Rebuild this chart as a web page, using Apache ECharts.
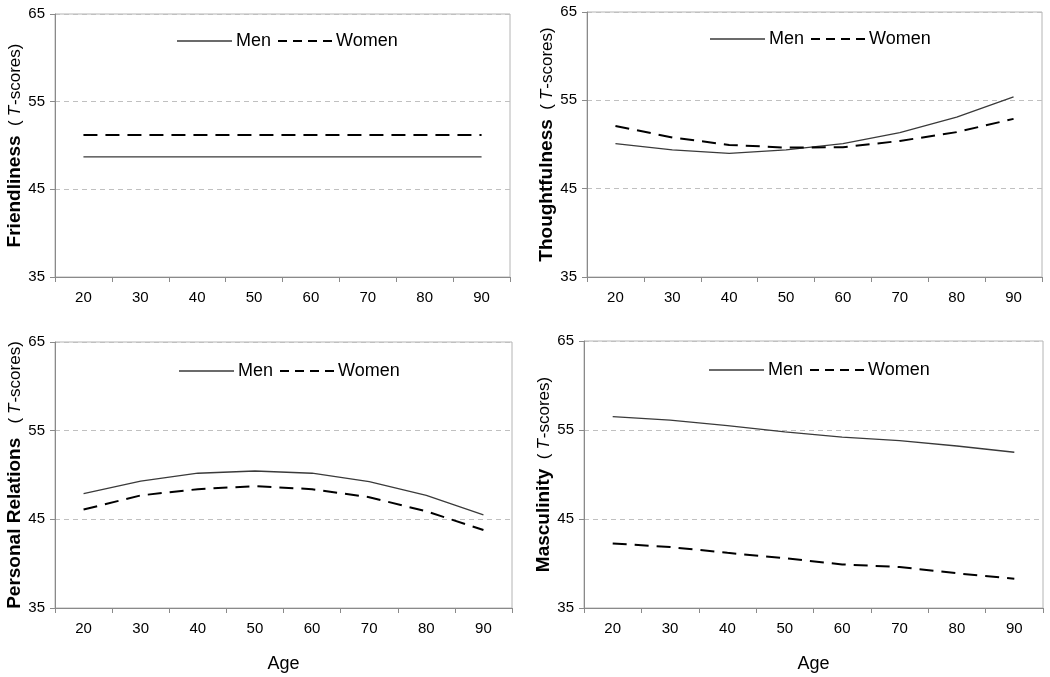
<!DOCTYPE html>
<html>
<head>
<meta charset="utf-8">
<script src="https://cdn.jsdelivr.net/npm/echarts@6/dist/echarts.min.js"></script>
<style>
html,body{margin:0;padding:0;background:#fff;}
#chart{width:1050px;height:677px;}
</style>
</head>
<body>
<div id="chart"></div>
<script>
// ---- data ----
const ages = ['20', '30', '40', '50', '60', '70', '80', '90'];
const yMin = 35, yMax = 65, yStep = 10;

const friendlinessMen   = [48.7, 48.7, 48.7, 48.7, 48.7, 48.7, 48.7, 48.7];
const friendlinessWomen = [51.2, 51.2, 51.2, 51.2, 51.2, 51.2, 51.2, 51.2];

const thoughtfulnessMen   = [50.1, 49.4, 49.0, 49.4, 50.1, 51.35, 53.1, 55.4];
const thoughtfulnessWomen = [52.1, 50.8, 49.95, 49.65, 49.7, 50.4, 51.4, 52.9];

const relationsMen   = [47.9, 49.3, 50.2, 50.45, 50.2, 49.25, 47.7, 45.5];
const relationsWomen = [46.1, 47.7, 48.4, 48.75, 48.4, 47.5, 45.9, 43.8];

const masculinityMen   = [56.5, 56.1, 55.5, 54.8, 54.2, 53.8, 53.2, 52.5];
const masculinityWomen = [42.25, 41.85, 41.2, 40.6, 39.9, 39.6, 38.9, 38.3];

const panelTitles = ['Friendliness', 'Thoughtfulness', 'Personal Relations', 'Masculinity'];
const titleSpacer = ['  ', '  ', '   ', '  '];
const xTitle = 'Age';
const seriesNames = ['Men', 'Women'];

const panelData = [
  [friendlinessMen, friendlinessWomen],
  [thoughtfulnessMen, thoughtfulnessWomen],
  [relationsMen, relationsWomen],
  [masculinityMen, masculinityWomen]
];

// ---- layout ----
const FONT = '"Liberation Sans", Arial, sans-serif';
const grids = [
  {left: 55,  top: 14,  width: 455, height: 263},
  {left: 587, top: 12,  width: 455, height: 265},
  {left: 55,  top: 342, width: 457, height: 266},
  {left: 584, top: 341, width: 459, height: 267}
];
// legend anchor: left of Men icon, vertical centre of row
const legendPos = [
  {x: 177, y: 39},
  {x: 710, y: 37},
  {x: 179, y: 369},
  {x: 709, y: 368}
];
const MEN_ICON = 'path://M0,0H55V1.3H0Z';
const WOMEN_ICON = 'path://M0,0H9V2H0Z M15,0H24V2H15Z M30,0H39V2H30Z M45,0H54V2H45Z';

const legends = [];
legendPos.forEach(p => {
  legends.push({
    left: p.x, top: p.y - 7, padding: 0,
    itemWidth: 55, itemHeight: 1.3, itemGap: 0,
    icon: MEN_ICON, selectedMode: false,
    textStyle: {fontFamily: FONT, fontSize: 18, color: '#000', padding: [0, 0, 0, -1]},
    data: [{name: 'Men', itemStyle: {color: '#3a3a3a'}}]
  });
  legends.push({
    left: p.x + 101, top: p.y - 7, padding: 0,
    itemWidth: 54, itemHeight: 2, itemGap: 0,
    icon: WOMEN_ICON, selectedMode: false,
    textStyle: {fontFamily: FONT, fontSize: 18, color: '#000', padding: [0, 0, 0, -1]},
    data: [{name: 'Women', itemStyle: {color: '#000'}}]
  });
});

const option = {
  backgroundColor: '#fff',
  animation: false,
  textStyle: {fontFamily: FONT, color: '#000'},
  grid: grids.map(g => Object.assign({show: true, borderColor: '#b4b4b4', borderWidth: 1, backgroundColor: 'transparent'}, g)),
  legend: legends,
  xAxis: grids.map((g, i) => ({
    type: 'category', gridIndex: i, data: ages, boundaryGap: true,
    axisLine: {show: true, lineStyle: {color: '#8a8a8a', width: 1}},
    axisTick: {show: true, length: 5, inside: false, lineStyle: {color: '#8a8a8a'}},
    axisLabel: {fontSize: 15, color: '#000', fontFamily: FONT, margin: 13},
    splitLine: {show: false},
    name: i >= 2 ? xTitle : '',
    nameLocation: 'middle', nameGap: 47,
    nameTextStyle: {fontSize: 18, color: '#000', fontFamily: FONT}
  })),
  yAxis: grids.map((g, i) => ({
    type: 'value', gridIndex: i, min: yMin, max: yMax, interval: yStep,
    axisLine: {show: true, lineStyle: {color: '#8a8a8a', width: 1}},
    axisTick: {show: true, length: 5, inside: false, lineStyle: {color: '#8a8a8a'}},
    axisLabel: {fontSize: 15, color: '#000', fontFamily: FONT, margin: 10},
    splitLine: {show: true, lineStyle: {color: '#c0c0c0', type: [5, 4], width: 1}},
    name: '{b|' + panelTitles[i] + '}{r|' + titleSpacer[i] + '(}{it|T}{r|-scores)}',
    nameLocation: 'middle', nameRotate: 90, nameGap: 26,
    nameTextStyle: {
      fontSize: 17, color: '#000', fontFamily: FONT,
      rich: {
        b: {fontSize: 19, fontWeight: 'bold', color: '#000', fontFamily: FONT},
        r: {fontSize: 17, color: '#000', fontFamily: FONT},
        it: {fontSize: 17, fontStyle: 'italic', color: '#000', fontFamily: FONT, padding: [0, 1, 0, 4]}
      }
    }
  })),
  series: []
};

panelData.forEach((pair, i) => {
  option.series.push({
    name: seriesNames[0], type: 'line', xAxisIndex: i, yAxisIndex: i,
    data: pair[0], symbol: 'none', smooth: false,
    lineStyle: {color: '#3a3a3a', width: 1.3, type: 'solid'},
    itemStyle: {color: '#3a3a3a'}
  });
  option.series.push({
    name: seriesNames[1], type: 'line', xAxisIndex: i, yAxisIndex: i,
    data: pair[1], symbol: 'none', smooth: false,
    lineStyle: {color: '#000', width: 2, type: [14, 8]},
    itemStyle: {color: '#000'}
  });
});

const chart = echarts.init(document.getElementById('chart'), null, {renderer: 'canvas'});
chart.setOption(option);
</script>
</body>
</html>
